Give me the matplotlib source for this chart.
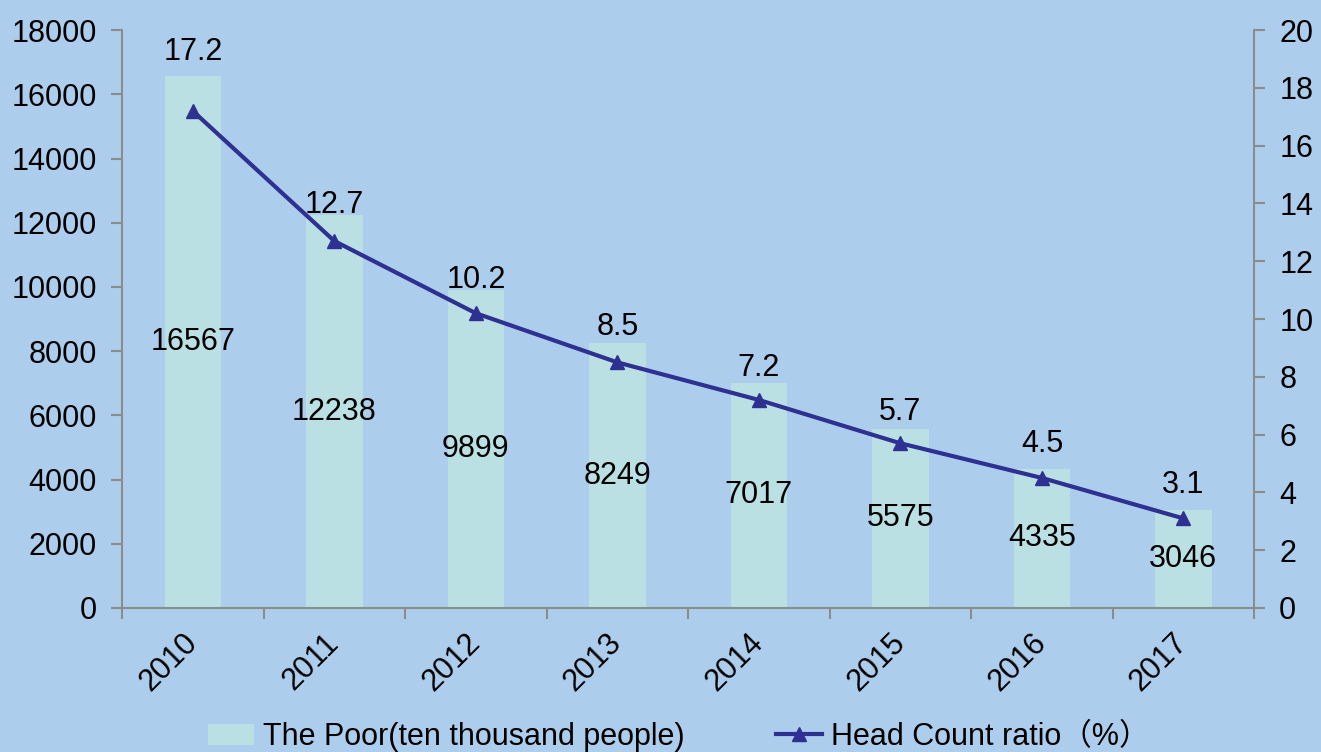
import numpy as np
import matplotlib
matplotlib.use("Agg")
import matplotlib.pyplot as plt

years = ['2010', '2011', '2012', '2013', '2014', '2015', '2016', '2017']
poor = [16567, 12238, 9899, 8249, 7017, 5575, 4335, 3046]
ratio = [17.2, 12.7, 10.2, 8.5, 7.2, 5.7, 4.5, 3.1]

# vertical shift (pixels, upward) of each ratio label relative to its point
ratio_label_shift = [59, 36, 33, 35, 32, 31, 34, 33]

plt.rcParams['font.family'] = ['Liberation Sans', 'Noto Sans CJK SC', 'DejaVu Sans']
bg = '#ADCDED'
bar_col = '#BBE0E3'
line_col = '#2E3192'
spine_col = '#8C8C8C'
fs = 22

fig = plt.figure(figsize=(13.21, 7.52), dpi=100, facecolor=bg)
ax = fig.add_axes([0.0924, 0.1915, 0.857, 0.7685])
ax.set_facecolor(bg)
x = np.arange(len(years))
bars = ax.bar(x, poor, width=0.4, color=bar_col, label='The Poor(ten thousand people)', zorder=2)
ax.set_ylim(0, 18000)
ax.set_xlim(-0.5, len(years) - 0.5)
ax.set_yticks(range(0, 18001, 2000))
ax.set_xticks(x)
ax.set_xticklabels(years, rotation=45, ha='right', va='center', rotation_mode='anchor')
ax.set_xticks(np.arange(-0.5, len(years)), minor=True)
ax.tick_params(axis='x', which='major', length=0, pad=22, labelsize=fs)
ax.tick_params(axis='x', which='minor', length=8, color=spine_col, width=1.5)
ax.tick_params(axis='y', length=8, color=spine_col, width=1.5, labelsize=fs, pad=10)

for b, v in zip(bars, poor):
    ax.text(b.get_x() + b.get_width() / 2, v / 2, str(v), ha='center', va='center', fontsize=fs, zorder=4)

ax2 = ax.twinx()
ax2.set_ylim(0, 20)
ax2.set_yticks(range(0, 21, 2))
ax2.tick_params(axis='y', length=8, color=spine_col, width=1.5, labelsize=fs, pad=10)
ax2.plot(x, ratio, color=line_col, lw=3, marker='^', markersize=10, label='Head Count ratio（%）', zorder=3)
for xi, r, s in zip(x, ratio, ratio_label_shift):
    ax2.annotate(str(r), (xi, r), xytext=(0, s * 0.72), textcoords='offset points',
                 ha='center', va='center', fontsize=fs)

for a in (ax, ax2):
    a.spines['top'].set_visible(False)
    for s in ('left', 'right', 'bottom'):
        a.spines[s].set_color(spine_col)
        a.spines[s].set_linewidth(1.5)
ax.spines['right'].set_visible(False)
ax2.spines['left'].set_visible(False)
ax2.spines['bottom'].set_visible(False)

h1, l1 = ax.get_legend_handles_labels()
h2, l2 = ax2.get_legend_handles_labels()
fig.legend(h1 + h2, l1 + l2, loc='center', bbox_to_anchor=(0.514, 0.02), ncol=2, frameon=False,
           fontsize=fs, handlelength=1.5, handletextpad=0.3, columnspacing=3.0)

fig.savefig('out.png', dpi=100, facecolor=bg)
